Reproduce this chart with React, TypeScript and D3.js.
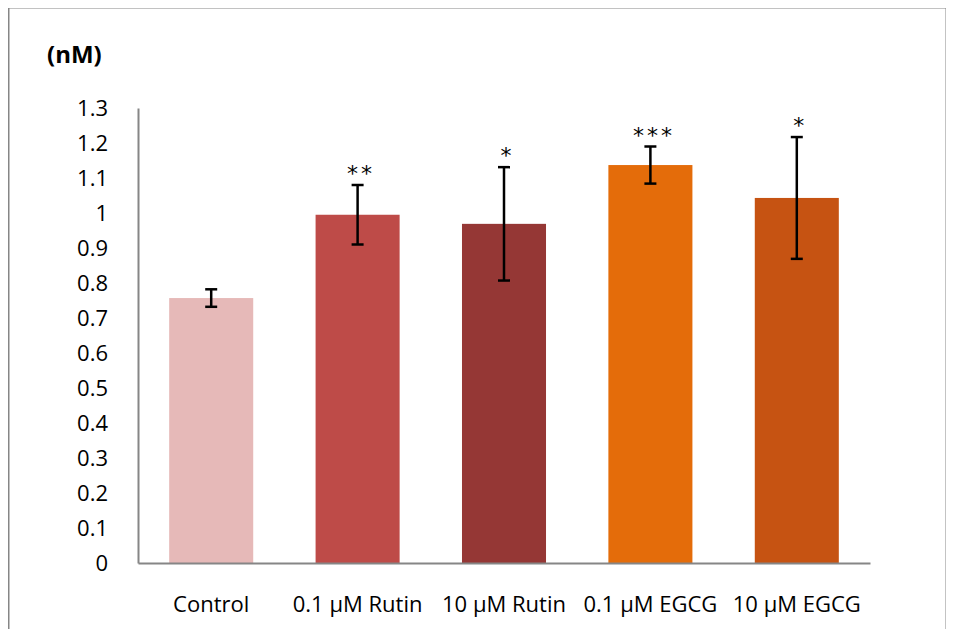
import React, { useEffect, useRef } from "react";
import * as d3 from "d3";

// chart data
const categories = ["Control", "0.1 μM Rutin", "10 μM Rutin", "0.1 μM EGCG", "10 μM EGCG"];
const means = [0.757, 0.995, 0.969, 1.137, 1.043];
const errors = [0.025, 0.085, 0.162, 0.053, 0.174];
const stars = ["", "**", "*", "***", "*"];
const barColors = ["#E6B9B8", "#BE4B48", "#953735", "#E46C0A", "#C65312"];
const yTicks = [0, 0.1, 0.2, 0.3, 0.4, 0.5, 0.6, 0.7, 0.8, 0.9, 1, 1.1, 1.2, 1.3];

const App = () => {
  const ref = useRef<SVGSVGElement>(null);

  useEffect(() => {
    const svg = d3.select(ref.current);
    svg.selectAll("*").remove();

    const font = "'Open Sans', 'Noto Sans', sans-serif";
    const plot = { left: 138, right: 870, top: 108, bottom: 563 };

    // outer frame
    svg
      .append("rect")
      .attr("x", 8.5)
      .attr("y", 7.5)
      .attr("width", 938)
      .attr("height", 640)
      .attr("fill", "white")
      .attr("stroke", "#868686")
      .attr("stroke-width", 2);

    // excel style: gap split evenly on both sides of each bar
    const x = d3
      .scaleBand()
      .domain(categories)
      .range([plot.left, plot.right])
      .paddingInner(0.426)
      .paddingOuter(0.213);

    const y = d3
      .scaleLinear()
      .domain([0, 1.3])
      .range([plot.bottom, plot.top]);

    const data = categories.map((c, i) => ({
      cat: c,
      mean: means[i],
      err: errors[i],
      star: stars[i],
      color: barColors[i],
    }));

    // bars
    svg
      .selectAll(".bar")
      .data(data)
      .enter()
      .append("rect")
      .attr("class", "bar")
      .attr("x", (d) => x(d.cat)!)
      .attr("y", (d) => y(d.mean))
      .attr("width", x.bandwidth())
      .attr("height", (d) => y(0) - y(d.mean))
      .attr("fill", (d) => d.color);

    // y axis
    const yAxis = d3
      .axisLeft(y)
      .tickValues(yTicks)
      .tickFormat((d) => `${d}`)
      .tickSize(0)
      .tickPadding(30);

    const gy = svg
      .append("g")
      .attr("transform", `translate(${plot.left}, 0)`)
      .call(yAxis);
    gy.select(".domain").attr("stroke", "#868686").attr("stroke-width", 2);
    gy.selectAll("text")
      .attr("font-family", font)
      .attr("font-size", 22)
      .attr("fill", "#000");

    // x axis
    const xAxis = d3.axisBottom(x).tickSize(0).tickPadding(33);
    const gx = svg
      .append("g")
      .attr("transform", `translate(0, ${plot.bottom})`)
      .call(xAxis);
    gx.select(".domain").attr("stroke", "#868686").attr("stroke-width", 2);
    gx.selectAll("text")
      .attr("font-family", font)
      .attr("font-size", 22)
      .attr("fill", "#000");

    // error bars
    const eb = svg
      .selectAll(".err")
      .data(data)
      .enter()
      .append("g")
      .attr("class", "err")
      .attr("stroke", "#000")
      .attr("stroke-width", 2.5);

    const cx = (d) => x(d.cat)! + x.bandwidth() / 2;
    eb.append("line")
      .attr("x1", cx)
      .attr("x2", cx)
      .attr("y1", (d) => y(d.mean + d.err))
      .attr("y2", (d) => y(d.mean - d.err));
    eb.append("line")
      .attr("x1", (d) => cx(d) - 6)
      .attr("x2", (d) => cx(d) + 6)
      .attr("y1", (d) => y(d.mean + d.err))
      .attr("y2", (d) => y(d.mean + d.err));
    eb.append("line")
      .attr("x1", (d) => cx(d) - 6)
      .attr("x2", (d) => cx(d) + 6)
      .attr("y1", (d) => y(d.mean - d.err))
      .attr("y2", (d) => y(d.mean - d.err));

    // significance stars
    svg
      .selectAll(".star")
      .data(data)
      .enter()
      .append("text")
      .attr("class", "star")
      .attr("x", (d) => cx(d) + 3.5)
      .attr("y", (d) => y(d.mean + d.err) - 4)
      .attr("text-anchor", "middle")
      .attr("font-family", "'DejaVu Sans', sans-serif")
      .attr("font-size", 22)
      .attr("letter-spacing", 3)
      .text((d) => d.star);

    // unit label
    svg
      .append("text")
      .attr("x", 47)
      .attr("y", 63)
      .attr("font-family", font)
      .attr("font-weight", "bold")
      .attr("font-size", 24)
      .text("(nM)");
  }, []);

  return <svg ref={ref} width={954} height={637} style={{ display: "block", margin: -8 }} />;
};

export default App;
